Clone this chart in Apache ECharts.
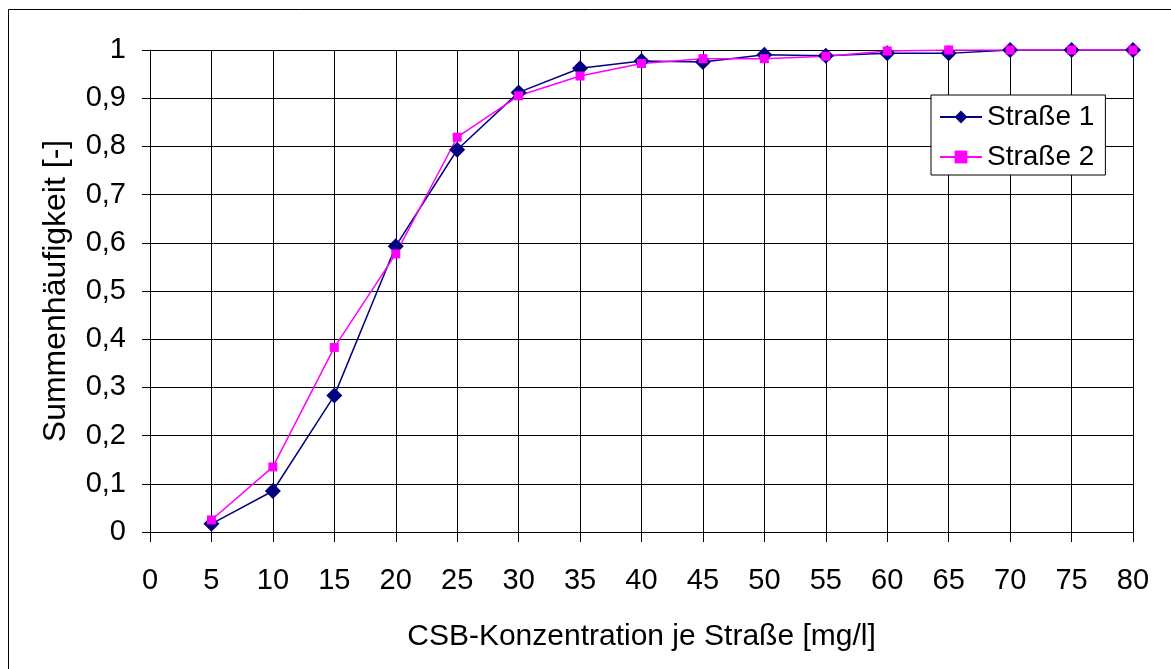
<!DOCTYPE html>
<html>
<head>
<meta charset="utf-8">
<script src="https://cdn.jsdelivr.net/npm/echarts@6/dist/echarts.min.js"></script>
<style>html,body{margin:0;padding:0;background:#fff}#c{width:1171px;height:669px}</style>
</head>
<body>
<div id="c"></div>
<script>
const xValues = [5,10,15,20,25,30,35,40,45,50,55,60,65,70,75,80];
const strasse1 = [0.017,0.085,0.283,0.593,0.793,0.912,0.962,0.977,0.975,0.990,0.988,0.993,0.993,1,1,1];
const strasse2 = [0.025,0.135,0.383,0.577,0.819,0.905,0.946,0.972,0.982,0.982,0.987,0.998,1,1,1,1];
const seriesNames = ['Straße 1','Straße 2'];
const xTitle = 'CSB-Konzentration je Straße [mg/l]';
const yTitle = 'Summenhäufigkeit [-]';

const font = 'Liberation Sans, Arial, sans-serif';
const chart = echarts.init(document.getElementById('c'));
chart.setOption({
  animation:false,
  backgroundColor:'#fff',
  graphic:[{type:'rect',shape:{x:8.5,y:9.5,width:1170,height:670},style:{fill:'none',stroke:'#000',lineWidth:1}}],
  grid:{left:150,right:38,top:50,bottom:137,containLabel:false},
  legend:{
    data:seriesNames.map(n=>({name:n})),
    orient:'vertical',left:931,top:95,
    backgroundColor:'#fff',borderColor:'#000',borderWidth:1,
    padding:[8,11,4,8],itemGap:12,itemWidth:42,itemHeight:16,itemTextGap:8,
    textStyle:{fontFamily:font,fontSize:28,color:'#000'}
  },
  xAxis:{
    type:'value',min:0,max:80,interval:5,
    name:xTitle,nameLocation:'middle',nameGap:90,
    nameTextStyle:{fontFamily:font,fontSize:30,color:'#000'},
    axisLine:{show:true,lineStyle:{color:'#000',width:1}},
    axisTick:{show:true,length:10,lineStyle:{color:'#000'}},
    axisLabel:{fontFamily:font,fontSize:29,color:'#000',margin:34},
    splitLine:{show:true,lineStyle:{color:'#000',width:1}}
  },
  yAxis:{
    type:'value',min:0,max:1,interval:0.1,
    name:yTitle,nameLocation:'middle',nameGap:78,
    nameTextStyle:{fontFamily:font,fontSize:32,color:'#000'},
    axisLine:{show:true,lineStyle:{color:'#000',width:1}},
    axisTick:{show:true,length:8,lineStyle:{color:'#000'}},
    axisLabel:{fontFamily:font,fontSize:29,color:'#000',margin:24,
      formatter:v=>String(Math.round(v*10)/10).replace('.',',')},
    splitLine:{show:true,lineStyle:{color:'#000',width:1}}
  },
  series:[
    {name:seriesNames[0],type:'line',data:xValues.map((x,i)=>[x,strasse1[i]]),
     symbol:'diamond',symbolSize:16,color:'#000080',
     lineStyle:{color:'#000080',width:1.5},itemStyle:{color:'#000080'}},
    {name:seriesNames[1],type:'line',data:xValues.map((x,i)=>[x,strasse2[i]]),
     symbol:'rect',symbolSize:9,color:'#ff00ff',
     lineStyle:{color:'#ff00ff',width:1.5},itemStyle:{color:'#ff00ff'}}
  ]
});
</script>
</body>
</html>
